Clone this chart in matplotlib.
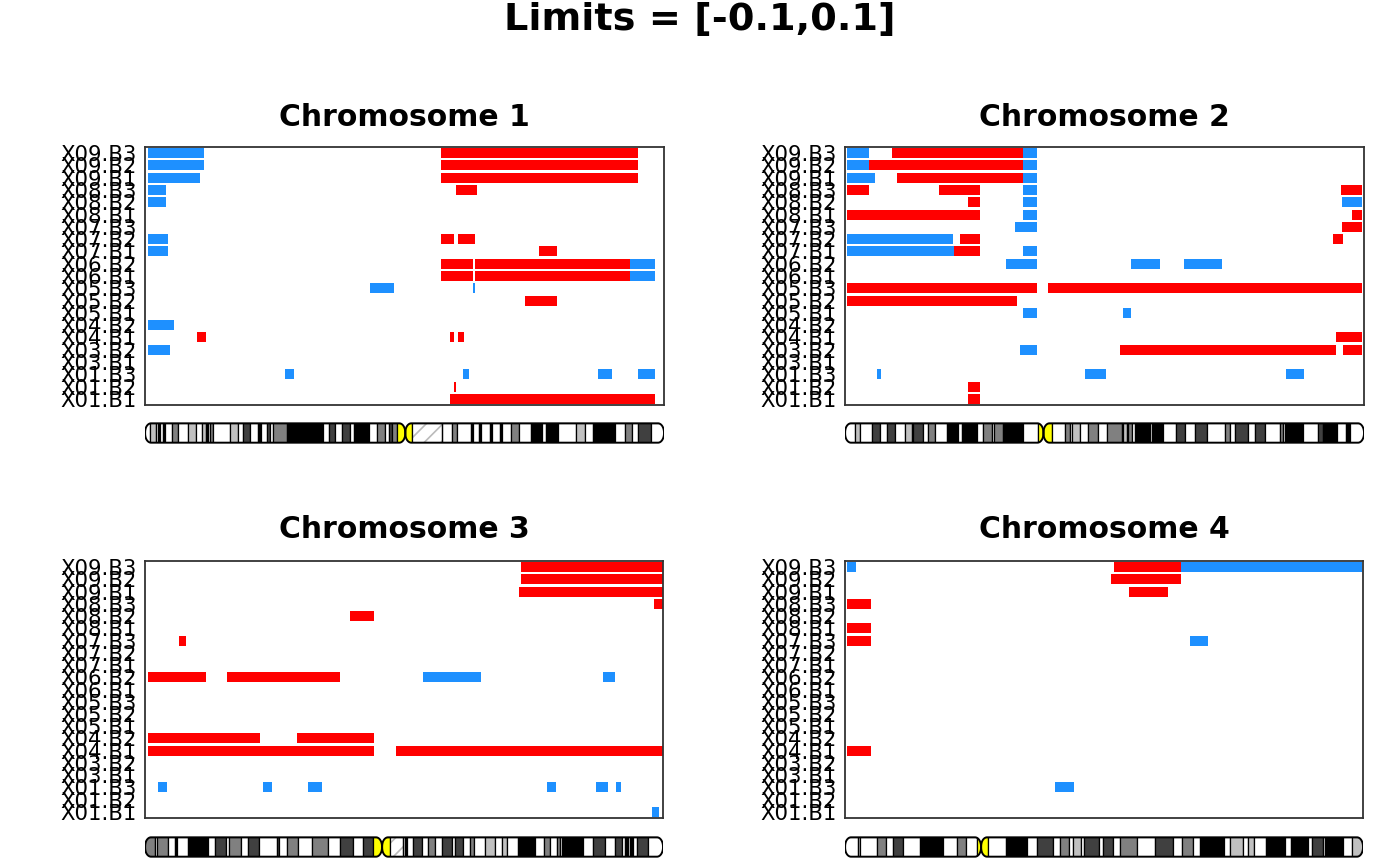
import numpy as np
import matplotlib
matplotlib.use("Agg")
import matplotlib.pyplot as plt
from matplotlib.patches import Rectangle, Polygon

plt.rcParams['font.family'] = ['DejaVu Sans']
plt.rcParams['hatch.linewidth'] = 1.2

# sample rows, bottom to top
samples = ["X01.B1", "X01.B2", "X01.B3", "X03.B1", "X03.B2", "X04.B1", "X04.B2",
           "X05.B1", "X05.B2", "X05.B3", "X06.B1", "X06.B2", "X07.B1", "X07.B2",
           "X07.B3", "X08.B1", "X08.B2", "X08.B3", "X09.B1", "X09.B2", "X09.B3"]

chrom_names = ["Chromosome 1", "Chromosome 2", "Chromosome 3", "Chromosome 4"]
chrom_len = [249.25, 243.2, 198.0, 191.15]  # Mb

# segments: (sample, start Mb, end Mb, call)  G = gain (red), L = loss (blue)
chr1_segments = [
    ("X09.B3", 1.3, 28.3, "L"), ("X09.B3", 142.0, 236.6, "G"),
    ("X09.B2", 1.3, 28.3, "L"), ("X09.B2", 142.0, 236.6, "G"),
    ("X09.B1", 1.3, 26.4, "L"), ("X09.B1", 142.0, 236.6, "G"),
    ("X08.B3", 1.3, 10.1, "L"), ("X08.B3", 149.3, 159.4, "G"),
    ("X08.B2", 1.3, 10.1, "L"),
    ("X07.B2", 1.3, 11.0, "L"), ("X07.B2", 142.0, 148.3, "G"), ("X07.B2", 150.2, 158.4, "G"),
    ("X07.B1", 1.3, 11.0, "L"), ("X07.B1", 189.1, 197.8, "G"),
    ("X06.B2", 142.0, 157.4, "G"), ("X06.B2", 158.4, 232.8, "G"), ("X06.B2", 232.8, 244.8, "L"),
    ("X06.B1", 142.0, 157.4, "G"), ("X06.B1", 158.4, 232.8, "G"), ("X06.B1", 232.8, 244.8, "L"),
    ("X05.B3", 108.0, 119.5, "L"), ("X05.B3", 157.4, 158.4, "L"),
    ("X05.B2", 182.4, 197.8, "G"),
    ("X04.B2", 1.3, 13.9, "L"),
    ("X04.B1", 25.0, 29.3, "G"), ("X04.B1", 146.4, 148.3, "G"), ("X04.B1", 150.2, 153.1, "G"),
    ("X03.B2", 1.3, 12.0, "L"),
    ("X01.B3", 67.2, 71.5, "L"), ("X01.B3", 152.6, 155.5, "L"),
    ("X01.B3", 217.4, 224.2, "L"), ("X01.B3", 236.6, 244.8, "L"),
    ("X01.B2", 148.3, 149.3, "G"),
    ("X01.B1", 146.4, 244.8, "G"),
]

chr2_segments = [
    ("X09.B3", 0.8, 11.2, "L"), ("X09.B3", 22.0, 83.4, "G"), ("X09.B3", 83.4, 90.0, "L"),
    ("X09.B2", 0.8, 11.2, "L"), ("X09.B2", 11.2, 83.4, "G"), ("X09.B2", 83.4, 90.0, "L"),
    ("X09.B1", 0.8, 14.1, "L"), ("X09.B1", 24.4, 83.4, "G"), ("X09.B1", 83.4, 90.0, "L"),
    ("X08.B3", 0.8, 11.2, "G"), ("X08.B3", 44.0, 63.3, "G"), ("X08.B3", 83.4, 90.0, "L"),
    ("X08.B3", 232.4, 242.3, "G"),
    ("X08.B2", 57.6, 63.3, "G"), ("X08.B2", 83.4, 90.0, "L"), ("X08.B2", 232.9, 242.3, "L"),
    ("X08.B1", 0.8, 63.3, "G"), ("X08.B1", 83.4, 90.0, "L"), ("X08.B1", 237.6, 242.3, "G"),
    ("X07.B3", 79.7, 90.0, "L"), ("X07.B3", 232.9, 242.3, "G"),
    ("X07.B2", 0.8, 50.6, "L"), ("X07.B2", 53.9, 63.3, "G"), ("X07.B2", 228.7, 233.4, "G"),
    ("X07.B1", 0.8, 51.1, "L"), ("X07.B1", 51.1, 63.3, "G"), ("X07.B1", 83.4, 90.0, "L"),
    ("X06.B2", 75.4, 90.0, "L"), ("X06.B2", 134.0, 147.6, "L"), ("X06.B2", 158.9, 176.7, "L"),
    ("X05.B3", 0.8, 90.0, "G"), ("X05.B3", 95.1, 242.3, "G"),
    ("X05.B2", 0.8, 80.6, "G"),
    ("X05.B1", 83.4, 90.0, "L"), ("X05.B1", 130.3, 134.0, "L"),
    ("X04.B1", 230.1, 242.3, "G"),
    ("X03.B2", 82.0, 90.0, "L"), ("X03.B2", 128.9, 230.1, "G"), ("X03.B2", 233.4, 242.3, "G"),
    ("X01.B3", 15.0, 16.9, "L"), ("X01.B3", 112.5, 122.3, "L"), ("X01.B3", 206.7, 215.1, "L"),
    ("X01.B2", 57.6, 63.3, "G"),
    ("X01.B1", 57.6, 63.3, "G"),
]

chr3_segments = [
    ("X09.B3", 143.7, 198.0, "G"),
    ("X09.B2", 143.7, 198.0, "G"),
    ("X09.B1", 142.9, 198.0, "G"),
    ("X08.B3", 194.5, 198.0, "G"),
    ("X08.B2", 78.4, 87.5, "G"),
    ("X07.B3", 13.0, 15.7, "G"),
    ("X06.B2", 1.1, 23.3, "G"), ("X06.B2", 31.3, 74.5, "G"),
    ("X06.B2", 106.3, 128.4, "L"), ("X06.B2", 175.0, 179.6, "L"),
    ("X04.B2", 1.1, 44.0, "G"), ("X04.B2", 58.1, 87.5, "G"),
    ("X04.B1", 1.1, 87.5, "G"), ("X04.B1", 95.9, 198.0, "G"),
    ("X01.B3", 5.0, 8.4, "L"), ("X01.B3", 45.1, 48.5, "L"), ("X01.B3", 62.3, 67.6, "L"),
    ("X01.B3", 153.6, 157.1, "L"), ("X01.B3", 172.4, 177.0, "L"), ("X01.B3", 180.0, 181.9, "L"),
    ("X01.B1", 193.8, 196.5, "L"),
]

chr4_segments = [
    ("X09.B3", 0.6, 4.1, "L"), ("X09.B3", 99.3, 124.0, "G"), ("X09.B3", 124.0, 190.8, "L"),
    ("X09.B2", 98.2, 124.0, "G"),
    ("X09.B1", 104.8, 119.2, "G"),
    ("X08.B3", 0.6, 9.6, "G"),
    ("X08.B1", 0.6, 9.6, "G"),
    ("X07.B3", 0.6, 9.6, "G"), ("X07.B3", 127.3, 133.9, "L"),
    ("X04.B1", 0.6, 9.6, "G"),
    ("X01.B3", 77.5, 84.5, "L"),
]

# cytobands: (start Mb, stain); each band ends where the next starts
chr1_bands = [
    (0, "gneg"), (2.2, "gpos25"), (5.4, "gneg"), (6.2, "gpos100"), (7.2, "gneg"),
    (8.6, "gpos100"), (9.4, "gneg"), (13.1, "gpos50"), (15.8, "gneg"), (20.6, "gpos25"),
    (24.6, "gneg"), (27.5, "gpos25"), (29.4, "gpos100"), (30.2, "gneg"), (31.0, "gpos50"),
    (32.6, "gneg"), (40.6, "gpos25"), (44.6, "gneg"), (47.0, "gpos75"), (50.2, "gneg"),
    (54.2, "gpos100"), (55.8, "gneg"), (58.6, "gpos75"), (59.8, "gneg"), (61.4, "gpos50"),
    (68.2, "gpos100"), (85.4, "gneg"), (88.3, "gpos75"), (91.4, "gneg"), (94.6, "gpos75"),
    (98.6, "gneg"), (100.2, "gpos100"), (107.4, "gneg"), (111.4, "gpos50"), (115.4, "gneg"),
    (117.0, "gpos75"), (118.6, "gpos50"), (121.0, "acen"), (125.0, "acen"), (128.0, "gvar"),
    (142.6, "gneg"), (147.4, "gpos50"), (149.8, "gneg"), (156.5, "gpos100"), (157.4, "gneg"),
    (160.3, "gpos100"), (161.3, "gneg"), (165.6, "gpos100"), (166.6, "gneg"), (170.4, "gpos100"),
    (171.4, "gneg"), (175.7, "gpos50"), (179.5, "gneg"), (185.3, "gpos100"), (190.6, "gneg"),
    (192.5, "gpos100"), (198.2, "gneg"), (206.9, "gpos25"), (211.2, "gneg"), (215.0, "gpos100"),
    (225.6, "gneg"), (230.4, "gpos50"), (233.8, "gneg"), (236.6, "gpos75"), (242.9, "gneg"),
]

chr2_bands = [
    (0, "gneg"), (4.7, "gpos25"), (7.0, "gneg"), (12.7, "gpos75"), (16.4, "gneg"),
    (19.7, "gpos75"), (23.4, "gneg"), (28.1, "gpos25"), (31.4, "gneg"), (31.9, "gpos75"),
    (36.6, "gneg"), (38.9, "gpos50"), (42.2, "gneg"), (47.8, "gpos100"), (53.0, "gneg"),
    (54.8, "gpos100"), (61.9, "gneg"), (64.7, "gpos50"), (68.9, "gneg"), (69.8, "gpos50"),
    (74.0, "gpos100"), (83.4, "gneg"), (90.4, "acen"), (93.0, "acen"), (96.8, "gneg"),
    (102.9, "gpos50"), (105.2, "gneg"), (106.6, "gpos25"), (109.9, "gneg"), (114.1, "gpos50"),
    (118.6, "gneg"), (122.8, "gpos50"), (129.8, "gneg"), (130.3, "gpos25"), (132.1, "gneg"),
    (132.6, "gpos50"), (134.5, "gneg"), (135.9, "gpos100"), (142.9, "gneg"), (143.9, "gpos100"),
    (149.0, "gneg"), (155.1, "gpos75"), (159.3, "gneg"), (164.0, "gpos75"), (169.6, "gneg"),
    (178.1, "gpos50"), (180.4, "gneg"), (182.8, "gpos75"), (188.8, "gneg"), (192.1, "gpos75"),
    (196.8, "gneg"), (203.9, "gpos50"), (205.3, "gneg"), (206.2, "gpos100"), (214.6, "gneg"),
    (221.7, "gpos75"), (224.0, "gpos100"), (230.6, "gneg"), (234.8, "gpos100"), (236.6, "gneg"),
]

chr3_bands = [
    (0, "gpos50"), (3.8, "gneg"), (4.6, "gpos50"), (8.8, "gneg"), (11.5, "gpos100"),
    (12.2, "gneg"), (16.4, "gpos100"), (24.1, "gneg"), (26.8, "gpos75"), (31.0, "gneg"),
    (32.1, "gpos50"), (36.7, "gneg"), (39.4, "gpos75"), (43.6, "gneg"), (50.5, "gpos75"),
    (51.2, "gneg"), (54.3, "gpos50"), (58.5, "gneg"), (63.8, "gpos50"), (69.9, "gneg"),
    (74.5, "gpos75"), (79.5, "gneg"), (83.3, "gpos75"), (87.1, "acen"), (90.6, "acen"),
    (93.6, "gvar"), (98.6, "gneg"), (99.4, "gpos100"), (100.1, "gneg"), (102.4, "gpos75"),
    (105.9, "gneg"), (108.2, "gpos50"), (110.8, "gneg"), (113.5, "gpos75"), (117.3, "gneg"),
    (118.5, "gpos75"), (121.5, "gneg"), (124.2, "gpos50"), (125.7, "gneg"), (129.9, "gpos25"),
    (133.8, "gneg"), (136.4, "gpos25"), (138.4, "gneg"), (142.6, "gpos100"), (149.1, "gneg"),
    (152.5, "gpos50"), (154.8, "gneg"), (157.5, "gpos50"), (158.6, "gneg"), (159.4, "gpos100"),
    (167.4, "gneg"), (171.2, "gpos75"), (175.8, "gneg"), (179.6, "gpos75"), (182.3, "gneg"),
    (183.5, "gpos100"), (184.6, "gneg"), (185.4, "gpos100"), (186.5, "gneg"), (188.0, "gpos75"),
    (192.2, "gneg"),
]

chr4_bands = [
    (0, "gneg"), (4.8, "gpos25"), (5.5, "gneg"), (11.8, "gpos50"), (15.1, "gneg"),
    (17.7, "gpos75"), (21.4, "gneg"), (27.7, "gpos100"), (36.2, "gneg"), (41.3, "gpos50"),
    (44.6, "gneg"), (48.7, "acen"), (50.2, "acen"), (52.8, "gneg"), (59.4, "gpos100"),
    (67.2, "gneg"), (70.8, "gpos75"), (76.8, "gneg"), (79.3, "gpos50"), (82.7, "gneg"),
    (84.1, "gpos25"), (87.1, "gneg"), (88.2, "gpos75"), (93.7, "gneg"), (95.2, "gpos75"),
    (98.9, "gneg"), (101.5, "gpos50"), (107.7, "gneg"), (114.4, "gpos75"), (121.0, "gneg"),
    (124.4, "gpos50"), (128.4, "gneg"), (131.0, "gpos100"), (139.9, "gneg"), (142.1, "gpos25"),
    (146.9, "gneg"), (148.7, "gpos25"), (150.9, "gneg"), (155.3, "gpos100"), (162.4, "gneg"),
    (164.6, "gpos100"), (170.8, "gneg"), (172.3, "gpos75"), (176.4, "gneg"), (177.1, "gpos100"),
    (183.8, "gneg"), (187.1, "gpos25"),
]

all_segments = [chr1_segments, chr2_segments, chr3_segments, chr4_segments]
all_bands = [chr1_bands, chr2_bands, chr3_bands, chr4_bands]

call_colors = {"G": "#FF0000", "L": "#1E90FF"}
stain_colors = {"gneg": "white", "gpos25": "#C0C0C0", "gpos50": "#808080",
                "gpos75": "#404040", "gpos100": "black", "acen": "#FFFF00",
                "gvar": "white"}

W, H = 1400, 866
fig = plt.figure(figsize=(W / 100, H / 100), dpi=100)

# panel boxes in pixels: left, right, top, bottom
panel_px = [(145, 664, 147, 405), (845, 1364, 147, 405),
            (145, 663, 561, 818), (845, 1363, 561, 818)]
ideo_px = [(422, 444), (422, 444), (836, 858), (836, 858)]
title_y = [117, 117, 530, 530]


def rounded_arm(a, b, rx, y0, y1, ry, n=14):
    pts = []
    t = np.linspace(0, np.pi / 2, n)
    for ang in t:
        pts.append((b - rx + rx * np.sin(ang), y0 + ry - ry * np.cos(ang)))
    for ang in t:
        pts.append((b - rx + rx * np.cos(ang), y1 - ry + ry * np.sin(ang)))
    for ang in t:
        pts.append((a + rx - rx * np.sin(ang), y1 - ry + ry * np.cos(ang)))
    for ang in t:
        pts.append((a + rx - rx * np.cos(ang), y0 + ry - ry * np.sin(ang)))
    return np.array(pts)


for i in range(4):
    L = chrom_len[i]
    left, right, top, bottom = panel_px[i]
    ax = fig.add_axes([left / W, 1 - bottom / H, (right - left) / W, (bottom - top) / H])
    for sample, s, e, call in all_segments[i]:
        row = samples.index(sample)
        ax.add_patch(Rectangle((s, row - 0.41), e - s, 0.82,
                               facecolor=call_colors[call], edgecolor="none"))
    ax.set_xlim(0, L)
    ax.set_ylim(-0.5, len(samples) - 0.5)
    ax.set_xticks([])
    ax.set_yticks(range(len(samples)))
    ax.set_yticklabels(samples, fontsize=15.3)
    ax.tick_params(axis="y", length=0, pad=6)
    for sp in ax.spines.values():
        sp.set_color("#333333")
        sp.set_linewidth(1.3)
    fig.text((left + right) / 2 / W, 1 - title_y[i] / H, chrom_names[i],
             ha="center", va="center", fontsize=21.5, fontweight="bold")

    # ideogram
    it, ib = ideo_px[i]
    iax = fig.add_axes([left / W, 1 - ib / H, (right - left) / W, (ib - it) / H])
    iax.set_xlim(0, L)
    iax.set_ylim(0, 1)
    iax.axis("off")
    bands = all_bands[i]
    starts = [b[0] for b in bands]
    ends = starts[1:] + [L]
    acen_idx = [k for k, b in enumerate(bands) if b[1] == "acen"]
    cen = starts[acen_idx[1]]
    rx = 6.0 * L / (right - left)
    y0, y1 = 0.06, 0.94
    arms = []
    for a, b in [(0, cen), (cen, L)]:
        poly = Polygon(rounded_arm(a, b, rx, y0, y1, 0.42), closed=True,
                       facecolor="none", edgecolor="black", linewidth=1.4, zorder=5)
        iax.add_patch(poly)
        arms.append(poly)
    for (s, stain), e in zip(bands, ends):
        clip = arms[0] if s < cen else arms[1]
        if stain == "gvar":
            r = Rectangle((s, y0), e - s, y1 - y0, facecolor="white",
                          edgecolor="#BBBBBB", hatch="//", linewidth=0, zorder=2)
            iax.add_patch(r)
            r.set_clip_path(clip)
            r2 = Rectangle((s, y0), e - s, y1 - y0, facecolor="none",
                           edgecolor="black", linewidth=0.9, zorder=3)
            iax.add_patch(r2)
            r2.set_clip_path(clip)
        else:
            r = Rectangle((s, y0), e - s, y1 - y0, facecolor=stain_colors[stain],
                          edgecolor="black", linewidth=0.9, zorder=2)
            iax.add_patch(r)
            r.set_clip_path(clip)

fig.text(0.5, 1 - 20 / H, "Limits = [-0.1,0.1]", ha="center", va="center",
         fontsize=27.5, fontweight="bold")

fig.savefig("out.png", dpi=100)
